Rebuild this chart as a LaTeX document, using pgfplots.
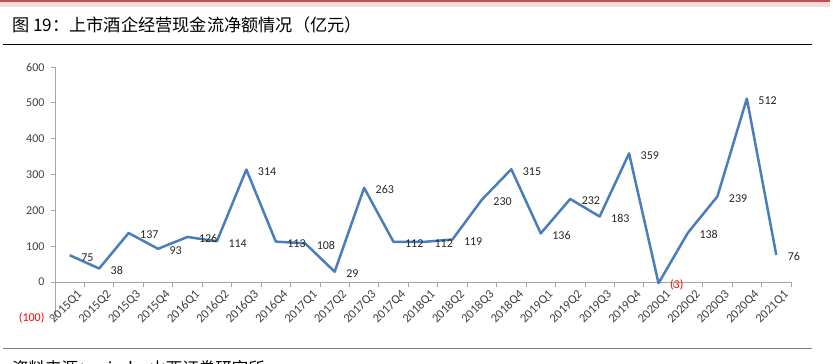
\documentclass[border=0pt]{standalone}
\usepackage{pgfplots}
\pgfplotsset{compat=1.18}
\usepackage{fontspec}
\setmainfont{Carlito}
\newfontfamily\cjk{Noto Sans CJK SC}
\definecolor{lineblue}{RGB}{74,126,187}
\definecolor{bandred}{RGB}{192,80,77}
\definecolor{bandpink}{RGB}{242,220,219}
\definecolor{axgray}{RGB}{166,166,166}
\definecolor{txtgray}{RGB}{64,64,64}
\begin{document}
\begin{tikzpicture}[x=1pt,y=1pt]
\useasboundingbox (0,0) rectangle (833,364);
\clip (0,0) rectangle (833,364);
\fill[bandred] (0,361.5) rectangle (830,364);
\fill[bandpink] (0,357) rectangle (830,361.5);
\node[anchor=base west, inner sep=0pt, font=\cjk\fontsize{17.2}{19}\selectfont] at (12,332.5) {图 19：上市酒企经营现金流净额情况（亿元）};
\draw[black, line width=1pt] (3,319) -- (812,319);
\draw[gray, line width=1.4pt] (3,15.5) -- (812,15.5);
\node[anchor=base west, inner sep=0pt, font=\cjk\fontsize{16.5}{18}\selectfont] at (12,-11) {资料来源：wind，山西证券研究所};
\begin{axis}[
  at={(55pt,46pt)}, anchor=south west,
  scale only axis, width=736pt, height=251pt,
  xmin=-0.5, xmax=24.5, ymin=-100, ymax=600,
  axis x line=middle, axis y line=left,
  axis line style={-, draw=axgray, line width=0.8pt},
  xtick={0,...,24},
  xticklabels={2015Q1,2015Q2,2015Q3,2015Q4,2016Q1,2016Q2,2016Q3,2016Q4,2017Q1,2017Q2,2017Q3,2017Q4,2018Q1,2018Q2,2018Q3,2018Q4,2019Q1,2019Q2,2019Q3,2019Q4,2020Q1,2020Q2,2020Q3,2020Q4,2021Q1},
  major x tick style={draw=none},
  minor xtick={-0.5,0.5,...,24.5},
  minor x tick style={draw=axgray, line width=0.8pt},
  minor tick length=5pt,
  ytick={-100,0,100,200,300,400,500,600},
  yticklabels={\textcolor{red}{(100)},0,100,200,300,400,500,600},
  major y tick style={draw=axgray, line width=0.8pt},
  major tick length=4pt,
  tick align=outside,
  /pgf/number format/assume math mode=true,
  xticklabel style={rotate=45, anchor=east, font=\fontsize{12.5}{13}\selectfont, text=txtgray, xshift=6pt, yshift=-12pt},
  yticklabel style={font=\fontsize{12}{13}\selectfont, text=txtgray, xshift=-3pt},
  clip=false,
  point meta=explicit symbolic,
  nodes near coords,
  every node near coord/.style={anchor=west, xshift=7pt, yshift=-2pt, font=\fontsize{12}{13}\selectfont, text=black!85},
]
\addplot[lineblue, line width=2.5pt, line join=round, mark=none] coordinates {
(0,75)[75] (1,38)[38] (2,137)[137] (3,93)[93] (4,126)[126] (5,114)[114]
(6,314)[314] (7,113)[113] (8,108)[108] (9,29)[29] (10,263)[263] (11,112)[112]
(12,112)[112] (13,119)[119] (14,230)[230] (15,315)[315] (16,136)[136] (17,232)[232]
(18,183)[183] (19,359)[359] (20,-3)[\textcolor{red}{(3)}] (21,138)[138] (22,239)[239]
(23,512)[512] (24,76)[76]
};
\end{axis}
\end{tikzpicture}
\end{document}
